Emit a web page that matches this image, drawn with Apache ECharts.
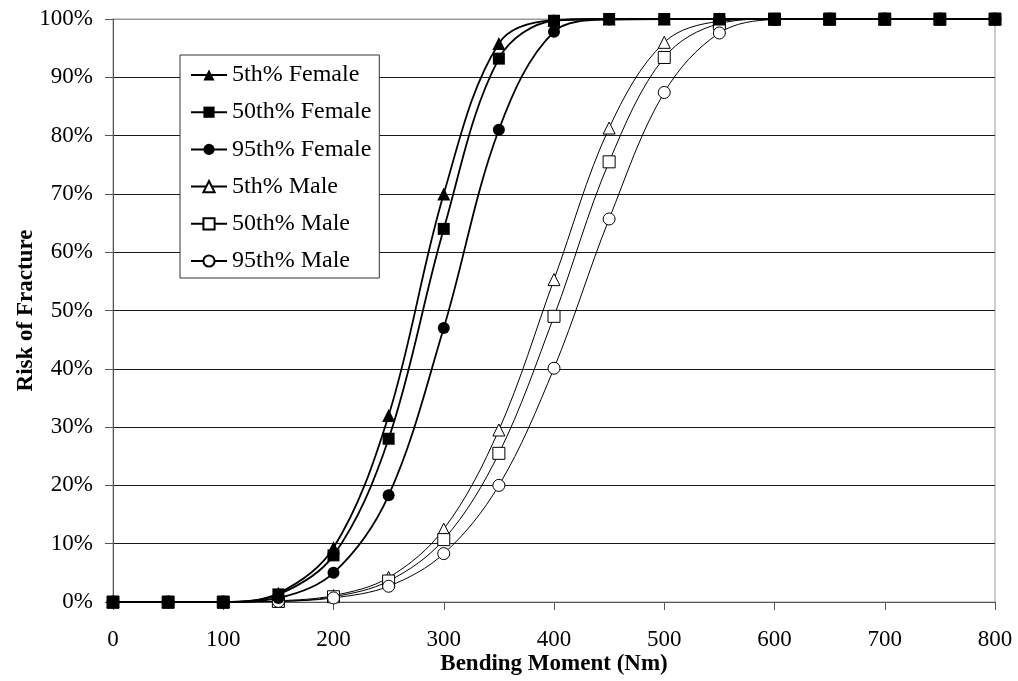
<!DOCTYPE html>
<html>
<head>
<meta charset="utf-8">
<script src="https://cdn.jsdelivr.net/npm/echarts@6/dist/echarts.min.js"></script>
<style>html,body{margin:0;padding:0;background:#fff}#c{width:1018px;height:681px}</style>
</head>
<body>
<div id="c"></div>
<script>
var moments = [0, 50, 100, 150, 200, 250, 300, 350, 400, 450, 500, 550, 600, 650, 700, 750, 800];
var female5  = [0, 0, 0, 1.5, 9.3, 32.0, 70.0, 95.8, 99.8, 100, 100, 100, 100, 100, 100, 100, 100];
var female50 = [0, 0, 0, 1.3, 8.0, 28.0, 64.0, 93.2, 99.7, 100, 100, 100, 100, 100, 100, 100, 100];
var female95 = [0, 0, 0, 0.7, 5.0, 18.3, 47.0, 81.0, 97.8, 99.9, 100, 100, 100, 100, 100, 100, 100];
var male5    = [0, 0, 0, 0.2, 1.1, 4.2, 12.5, 29.5, 55.3, 81.3, 96.0, 99.6, 100, 100, 100, 100, 100];
var male50   = [0, 0, 0, 0.1, 0.9, 3.6, 10.7, 25.5, 49.0, 75.5, 93.4, 99.2, 100, 100, 100, 100, 100];
var male95   = [0, 0, 0, 0.1, 0.7, 2.7, 8.3, 20.0, 40.1, 65.7, 87.4, 97.6, 99.9, 100, 100, 100, 100];
var seriesNames = ['5th% Female', '50th% Female', '95th% Female', '5th% Male', '50th% Male', '95th% Male'];
var xTicks = [0, 100, 200, 300, 400, 500, 600, 700, 800];
var yTicks = [0, 10, 20, 30, 40, 50, 60, 70, 80, 90, 100];

function pairs(vals) { return moments.map(function (m, i) { return [m, vals[i]]; }); }

var FONT = '"Liberation Serif", "Times New Roman", serif';
var specs = [
  {vals: female5, symbol: 'triangle', size: 13, filled: true},
  {vals: female50, symbol: 'rect', size: 12, filled: true},
  {vals: female95, symbol: 'circle', size: 12, filled: true},
  {vals: male5, symbol: 'triangle', size: 12, filled: false},
  {vals: male50, symbol: 'rect', size: 12, filled: false},
  {vals: male95, symbol: 'circle', size: 12, filled: false}
];
var series = specs.map(function (s, i) {
  return {
    name: seriesNames[i],
    type: 'line',
    data: pairs(s.vals),
    smooth: 0.35,
    symbol: s.symbol,
    symbolSize: s.size,
    showAllSymbol: true,
    z: s.filled ? 3 : 2,
    lineStyle: {color: '#000', width: s.filled ? 1.8 : 1},
    itemStyle: {color: s.filled ? '#000' : '#fff', borderColor: '#000', borderWidth: s.filled ? 0 : 1},
    emphasis: {disabled: true},
    animation: false
  };
});

var splitColors = yTicks.map(function (t) { return t === 100 ? '#9a9a9a' : '#1a1a1a'; });

var chart = echarts.init(document.getElementById('c'), null, {renderer: 'canvas'});
chart.setOption({
  backgroundColor: '#fff',
  animation: false,
  grid: {left: 113, right: 23, top: 19, bottom: 79, show: true, borderColor: '#9a9a9a', borderWidth: 1,
         containLabel: false, outerBoundsMode: 'none'},
  legend: {
    orient: 'vertical',
    left: 180, top: 55,
    padding: [8, 8, 5, 10],
    itemGap: 13.2,
    itemWidth: 36, itemHeight: 14,
    backgroundColor: '#fff',
    borderColor: '#333', borderWidth: 1,
    textStyle: {fontFamily: FONT, fontSize: 24, color: '#000'},
    data: seriesNames
  },
  xAxis: {
    type: 'value', min: 0, max: 800, interval: 100,
    name: 'Bending Moment (Nm)', nameLocation: 'middle', nameGap: 51, nameMoveOverlap: false,
    nameTextStyle: {fontFamily: FONT, fontSize: 23, fontWeight: 'bold', color: '#000'},
    axisLine: {show: true, lineStyle: {color: '#555', width: 1}},
    axisTick: {show: true, inside: false, length: 8, lineStyle: {color: '#555'}},
    axisLabel: {fontFamily: FONT, fontSize: 23, color: '#000', margin: 26},
    splitLine: {show: false}
  },
  yAxis: {
    type: 'value', min: 0, max: 100, interval: 10,
    name: 'Risk of Fracture', nameLocation: 'middle', nameGap: 75, nameRotate: 90, nameMoveOverlap: false,
    nameTextStyle: {fontFamily: FONT, fontSize: 23, fontWeight: 'bold', color: '#000'},
    axisLine: {show: true, lineStyle: {color: '#555', width: 1}},
    axisTick: {show: true, inside: false, length: 8, lineStyle: {color: '#555'}},
    axisLabel: {fontFamily: FONT, fontSize: 23, color: '#000', margin: 20, formatter: '{value}%'},
    splitLine: {show: true, lineStyle: {color: splitColors, width: 1}}
  },
  series: series
});
</script>
</body>
</html>
